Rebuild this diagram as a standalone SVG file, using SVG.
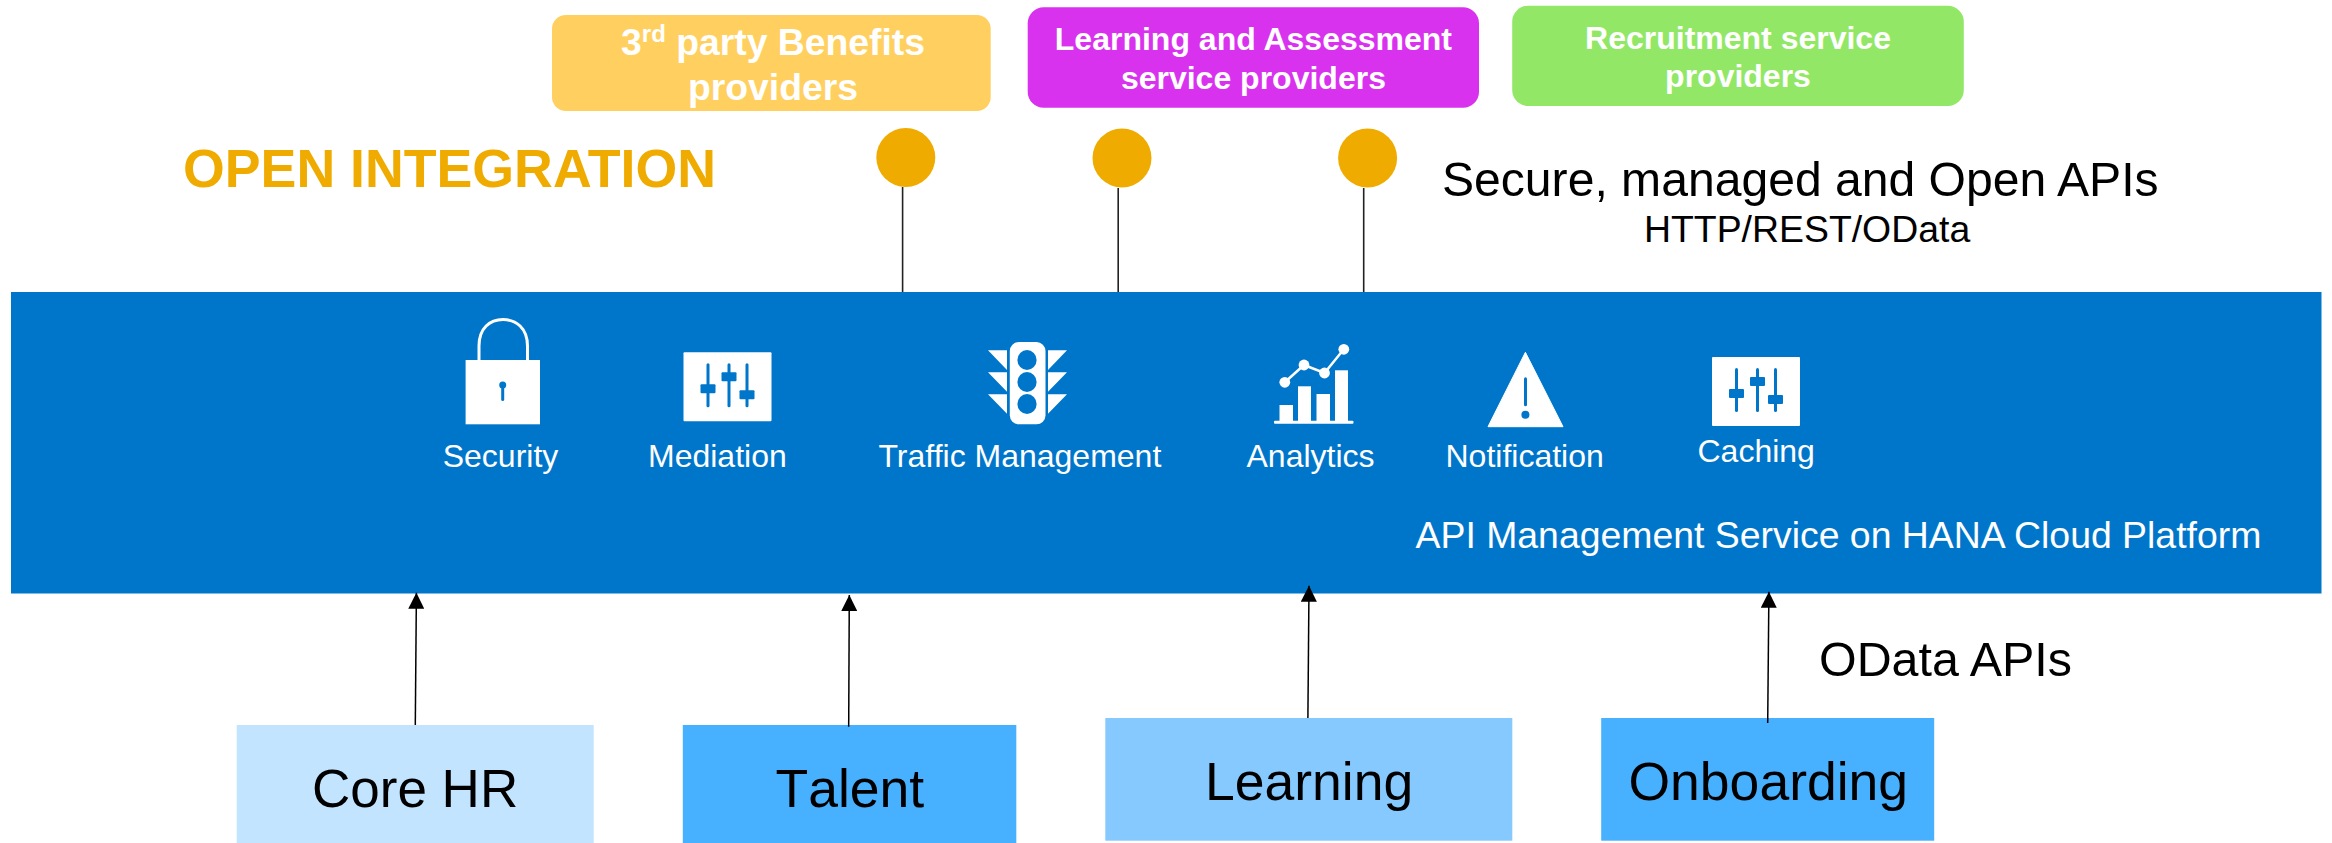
<svg xmlns="http://www.w3.org/2000/svg" width="2332" height="843" viewBox="0 0 2332 843">
<style>
text{font-family:"Liberation Sans",Arial,sans-serif}
.w{fill:#fff;font-size:32px}
.b{fill:#fff;font-size:32px;font-weight:bold;text-anchor:middle}
.b2{font-size:37.3px}
.k{fill:#000}
.n{font-size:53.5px}
.c{fill:#f0ab00}
.l{stroke:#222;stroke-width:1.6;fill:none}
.i{fill:#fff}
.h{fill:#0076cb}
</style>
<defs>
<marker id="ah" markerUnits="userSpaceOnUse" markerWidth="16" markerHeight="16" viewBox="0 0 16 16" refX="16" refY="8" orient="auto"><path d="M0 0L16 8L0 16Z" fill="#000"/></marker>
<g id="sl">
<rect width="88" height="69" rx="1" class="i"/>
<g class="h"><rect x="23" y="11" width="3" height="44" rx="1.5"/><rect x="44" y="11" width="3" height="44" rx="1.5"/><rect x="62" y="11" width="3" height="44" rx="1.5"/><rect x="17" y="32" width="15" height="9" rx="1"/><rect x="38" y="20" width="15" height="9" rx="1"/><rect x="56" y="38" width="15" height="9" rx="1"/></g>
</g>
</defs>
<rect width="2332" height="843" fill="#fff"/>
<g id="platform">
<rect x="11" y="292" width="2310.500" height="301.500" fill="#0076cb"/>
<text class="w" x="1415.500" y="548" style="font-size:37.4px">API Management Service on HANA Cloud Platform</text>
</g>
<g id="security"><rect x="465.600" y="360" width="74.400" height="64.300" class="i"/><path d="M479 360V346C479 328 490 319.500 503 319.500C516 319.500 527.500 328 527.500 346V360" fill="none" stroke="#fff" stroke-width="3"/><circle cx="502.700" cy="385" r="3.500" class="h"/><rect x="501.200" y="385" width="3" height="16" rx="1.500" class="h"/><text class="w" x="442.700" y="467">Security</text></g>
<g id="mediation"><use href="#sl" x="683.500" y="352.300"/><text class="w" x="648" y="467">Mediation</text></g>
<g id="traffic"><rect x="1009.800" y="342" width="35.700" height="82.300" rx="9" class="i"/><g class="h"><ellipse cx="1027" cy="360" rx="9.600" ry="10"/><ellipse cx="1027" cy="382" rx="9.600" ry="10"/><ellipse cx="1027" cy="404" rx="9.600" ry="10"/></g>
<path class="i" d="M988 350.300H1007V370ZM988 372.300H1007V391.700ZM988 394.300H1007V413.700ZM1067 350.300H1048V370ZM1067 372.300H1048V391.700ZM1067 394.300H1048V413.700Z"/><text class="w" x="878.500" y="467">Traffic Management</text></g>
<g id="analytics"><g class="i"><rect x="1279.500" y="405" width="13.500" height="16"/><rect x="1298" y="386.300" width="13" height="35"/><rect x="1316.500" y="394" width="13.500" height="27"/><rect x="1335" y="370.300" width="13" height="51"/><rect x="1274" y="420.700" width="79.500" height="3" rx="1"/><circle cx="1284.800" cy="382.300" r="5.400"/><circle cx="1304" cy="365" r="5.400"/><circle cx="1324.500" cy="373" r="5.400"/><circle cx="1343.800" cy="349.300" r="5.400"/></g><path d="M1284.800 382.300L1304 365L1324.500 373L1343.800 349.300" fill="none" stroke="#fff" stroke-width="2.500"/><text class="w" x="1246.500" y="467">Analytics</text></g>
<g id="notification"><path class="i" d="M1525.400 352.300L1563 426.700H1488Z" stroke="#fff" stroke-width="1" stroke-linejoin="round"/><rect x="1524" y="377.300" width="3" height="29" rx="1.500" class="h"/><circle cx="1525.400" cy="414.700" r="4" class="h"/><text class="w" x="1445.500" y="467">Notification</text></g>
<g id="caching"><use href="#sl" x="1712" y="357"/><text class="w" x="1697.500" y="462">Caching</text></g>
<g id="benefits"><rect x="552" y="15" width="438.700" height="96" rx="14" fill="#ffd05f"/><text class="b b2" x="773" y="54.500">3<tspan dy="-13" style="font-size:24px">rd</tspan><tspan dy="13"> party Benefits</tspan></text><text class="b b2" x="773" y="100">providers</text></g>
<g id="learning-sp"><rect x="1027.700" y="7.300" width="451.300" height="100.400" rx="16" fill="#d932ef"/><text class="b" x="1253.400" y="50">Learning and Assessment</text><text class="b" x="1253.400" y="88.500">service providers</text></g>
<g id="recruit"><rect x="1512.200" y="5.700" width="451.600" height="100.300" rx="16" fill="#92e866"/><text class="b" x="1738" y="49">Recruitment service</text><text class="b" x="1738" y="87">providers</text></g>
<g id="pin1"><circle class="c" cx="905.800" cy="157.500" r="29.500"/></g>
<g id="pin2"><circle class="c" cx="1122" cy="158" r="29.500"/></g>
<g id="pin3"><circle class="c" cx="1367.600" cy="158" r="29.500"/></g>
<g id="open"><text x="183" y="186.500" fill="#f0ab00" style="font-size:53.7px;font-weight:bold">OPEN INTEGRATION</text></g>
<g id="apis"><text class="k" x="1442" y="195.500" style="font-size:48.1px">Secure, managed and Open APIs</text><text class="k" x="1644" y="241.700" style="font-size:37.400px">HTTP/REST/OData</text></g>
<g id="odata"><text class="k" x="1819" y="675.500" style="font-size:48.400px">OData APIs</text></g>
<g id="corehr"><rect x="236.700" y="725" width="357" height="118" fill="#c2e4ff"/><text class="k n" x="312" y="806.500" style="font-size:53px">Core HR</text></g>
<g id="talent"><rect x="682.800" y="725" width="333.500" height="118" fill="#47b0ff"/><text class="k n" x="775.500" y="806.500" style="font-kerning:none">Talent</text></g>
<g id="learning"><rect x="1105.300" y="718" width="407" height="122.700" fill="#85c9ff"/><text class="k n" x="1205" y="799.500">Learning</text></g>
<g id="onboarding"><rect x="1601.200" y="718" width="333" height="122.700" fill="#47b0ff"/><text class="k n" x="1628.500" y="799.500">Onboarding</text></g>
<g id="connectors">
<path class="l" d="M902.600 187V292M1118.200 188V292M1363.700 188V292"/>
<g stroke="#000" stroke-width="1.500" marker-end="url(#ah)"><path d="M415.300 725L416.400 592.700"/><path d="M848.700 726.700L849.300 595"/><path d="M1307.900 718L1309 585.700"/><path d="M1767.700 723L1768.900 591.700"/></g>
</g>
</svg>
